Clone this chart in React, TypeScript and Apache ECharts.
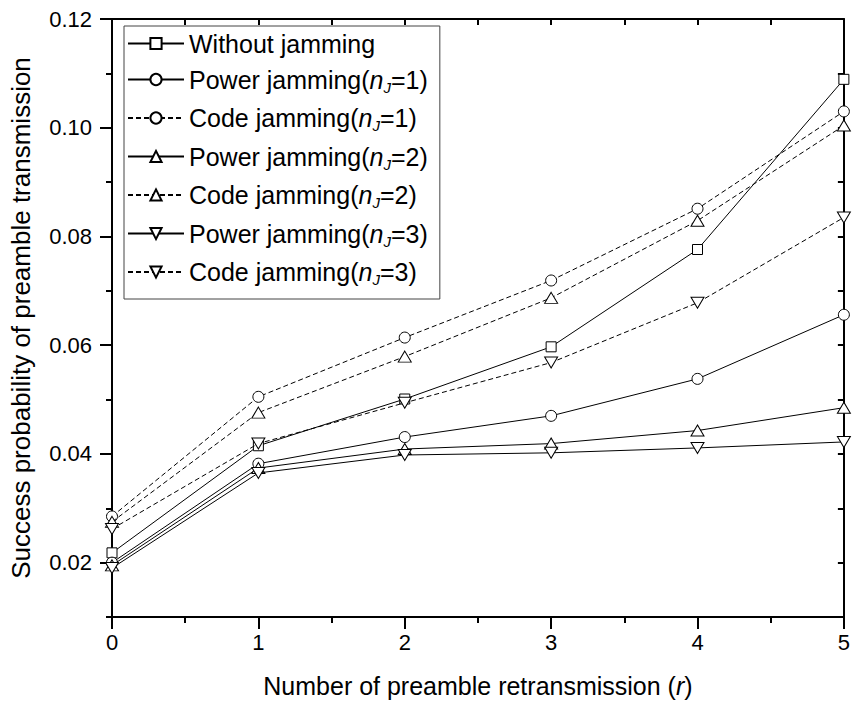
import React, { useEffect, useRef } from 'react';
import * as echarts from 'echarts';

const xValues = [0, 1, 2, 3, 4, 5];
const yMajorTicks = [0.02, 0.04, 0.06, 0.08, 0.1, 0.12];

const withoutJamming = [0.0218, 0.0415, 0.0501, 0.0597, 0.0776, 0.1089];
const powerJ1 = [0.02, 0.0382, 0.0431, 0.047, 0.0538, 0.0656];
const codeJ1 = [0.0285, 0.0505, 0.0614, 0.0719, 0.0851, 0.103];
const powerJ2 = [0.0195, 0.0374, 0.0409, 0.0419, 0.0443, 0.0485];
const codeJ2 = [0.0275, 0.0476, 0.0579, 0.0687, 0.0829, 0.1004];
const powerJ3 = [0.019, 0.0365, 0.0398, 0.0402, 0.0411, 0.0422];
const codeJ3 = [0.0262, 0.0419, 0.0494, 0.0568, 0.0678, 0.0835];

const seriesNames = [
  'Without jamming',
  'Power jamming(n_J=1)',
  'Code jamming(n_J=1)',
  'Power jamming(n_J=2)',
  'Code jamming(n_J=2)',
  'Power jamming(n_J=3)',
  'Code jamming(n_J=3)',
];
const seriesValues = [withoutJamming, powerJ1, codeJ1, powerJ2, codeJ2, powerJ3, codeJ3];
const seriesDashed = [false, false, true, false, true, false, true];
const DOWN_TRI = 'path://M0,0L13,0L6.5,11Z';
const seriesSymbols = ['rect', 'circle', 'circle', 'triangle', 'triangle', DOWN_TRI, DOWN_TRI];
const seriesSymbolSizes: any[] = [10, 11, 11, [13, 11], [13, 11], [13, 11], [13, 11]];

const FONT = '"Liberation Sans", Arial, sans-serif';

export default function App() {
  const ref = useRef<HTMLDivElement>(null);
  useEffect(() => {
    const chart = echarts.init(ref.current!, null, { renderer: 'svg' });
    const axisLine = { show: true, lineStyle: { color: '#000', width: 2 } };
    const option: any = {
      animation: false,
      backgroundColor: '#fff',
      grid: { left: 109, right: 2, top: 19, bottom: 90, containLabel: false },
      legend: {
        left: 124,
        top: 26,
        orient: 'vertical',
        itemWidth: 56,
        itemHeight: 14,
        itemGap: 11,
        padding: [5, 12, 12, 3],
        borderColor: '#444',
        borderWidth: 1,
        backgroundColor: '#fff',
        symbolKeepAspect: true,
        textStyle: {
          fontFamily: FONT,
          fontSize: 25,
          color: '#000',
          rich: {
            t: { fontFamily: FONT, fontSize: 25, color: '#000', lineHeight: 28 },
            i: { fontFamily: FONT, fontSize: 25, fontStyle: 'italic', color: '#000', lineHeight: 28 },
            s: { fontFamily: FONT, fontSize: 15, fontStyle: 'italic', color: '#000', padding: [15, 0, 0, 0] },
          },
        },
        formatter: (name: string) => {
          const m = name.match(/^(.*)\(n_J=(\d)\)$/);
          if (!m) return `{t|${name}}`;
          return `{t|${m[1]}(}{i|n}{s|J}{t|=${m[2]})}`;
        },
        data: seriesNames,
      },
      xAxis: [
        {
          type: 'value',
          position: 'bottom',
          min: 0,
          max: 5,
          interval: 1,
          axisLine,
          axisTick: { show: true, length: 12, lineStyle: { color: '#000', width: 2 } },
          minorTick: { show: true, splitNumber: 2, length: 6, lineStyle: { color: '#000', width: 2 } },
          splitLine: { show: false },
          axisLabel: { fontFamily: FONT, fontSize: 22, color: '#000', margin: 14 },
          name: 'Number of preamble retransmission ({i|r})',
          nameLocation: 'middle',
          nameGap: 56,
          nameTextStyle: {
            fontFamily: FONT,
            fontSize: 25,
            color: '#000',
            rich: { i: { fontFamily: FONT, fontSize: 25, fontStyle: 'italic', color: '#000' } },
          },
        },
        {
          type: 'value',
          position: 'top',
          min: 0,
          max: 5,
          interval: 0.5,
          axisLine,
          axisTick: { show: true, inside: true, length: 6, lineStyle: { color: '#000', width: 2 } },
          axisLabel: { show: false },
          splitLine: { show: false },
        },
      ],
      yAxis: [
        {
          type: 'value',
          position: 'left',
          min: 0.01,
          max: 0.12,
          interval: 0.01,
          axisLine,
          axisTick: { show: true, length: 6, lineStyle: { color: '#000', width: 2 } },
          splitLine: { show: false },
          axisLabel: {
            customValues: yMajorTicks,
            fontFamily: FONT,
            fontSize: 22,
            color: '#000',
            margin: 20,
            formatter: (v: number) => v.toFixed(2),
          },
          name: 'Success probability of preamble transmission',
          nameLocation: 'middle',
          nameRotate: 90,
          nameGap: 78,
          nameTextStyle: { fontFamily: FONT, fontSize: 26, color: '#000' },
        },
        {
          type: 'value',
          position: 'left',
          min: 0.01,
          max: 0.12,
          interval: 0.01,
          axisLine: { show: false },
          axisTick: { show: true, length: 12, customValues: yMajorTicks, lineStyle: { color: '#000', width: 2 } },
          axisLabel: { show: false },
          splitLine: { show: false },
        },
        {
          type: 'value',
          position: 'right',
          min: 0.01,
          max: 0.12,
          interval: 0.01,
          axisLine,
          axisTick: { show: true, inside: true, length: 6, lineStyle: { color: '#000', width: 2 } },
          axisLabel: { show: false },
          splitLine: { show: false },
        },
      ],
      series: seriesNames.map((name, k) => ({
        name,
        type: 'line',
        xAxisIndex: 0,
        yAxisIndex: 0,
        data: xValues.map((x, i) => [x, seriesValues[k][i]]),
        symbol: seriesSymbols[k],
        symbolSize: seriesSymbolSizes[k],
        symbolKeepAspect: false,
        showAllSymbol: true,
        clip: false,
        lineStyle: { color: '#000', width: 1, type: seriesDashed[k] ? [5, 3] : 'solid' },
        itemStyle: { color: '#fff', borderColor: '#000', borderWidth: 1 },
        emphasis: { disabled: true },
        z: 2 + k,
      })),
    };
    chart.setOption(option);
    return () => chart.dispose();
  }, []);
  return (
    <div
      ref={ref}
      style={{ position: 'fixed', left: 0, top: 0, width: 853, height: 707, background: '#fff' }}
    />
  );
}
